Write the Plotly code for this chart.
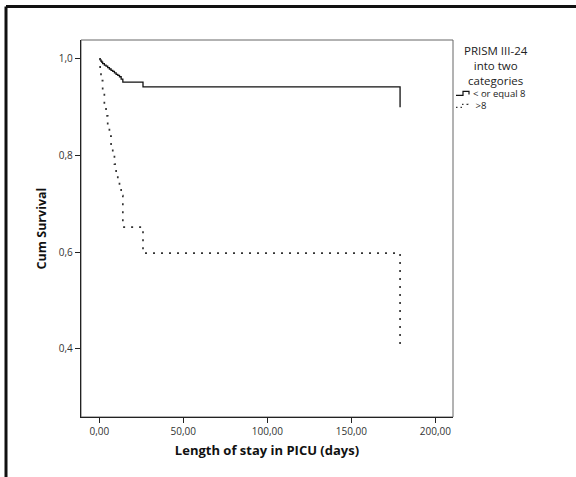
import plotly.graph_objects as go

# Data (Kaplan-Meier step estimates)
low_days = [0, 0.5, 1, 1.5, 2, 3, 4, 5, 6, 7, 8, 9, 10, 11, 12, 13, 14, 26, 179]
low_surv = [1.0, 0.998, 0.995, 0.993, 0.990, 0.987, 0.985, 0.982, 0.979, 0.976,
            0.974, 0.971, 0.968, 0.966, 0.963, 0.958, 0.952, 0.942, 0.900]
high_days = [0, 0.5, 1, 2, 3, 4, 5, 6, 7, 8, 9, 10, 11, 12, 13, 14, 26, 179]
high_surv = [1.0, 0.975, 0.955, 0.930, 0.905, 0.882, 0.862, 0.840, 0.820, 0.800,
             0.782, 0.765, 0.748, 0.732, 0.717, 0.652, 0.598, 0.408]
series_names = ["< or equal 8", ">8"]
legend_title_lines = ["PRISM III-24", "into two", "categories"]
x_ticks = [0, 50, 100, 150, 200]
y_ticks = [0.4, 0.6, 0.8, 1.0]

W, H = 576, 477
L, R, T, B = 81, 123, 39.5, 60
pw, ph = W - L - R, H - T - B

def px(x):
    return (x - L) / pw

def py(y):
    return (H - B - y) / ph

FONT = "Open Sans"

fig = go.Figure()
fig.add_trace(go.Scatter(x=low_days, y=low_surv, mode="lines", line_shape="hv",
                         name=series_names[0], line=dict(color="#111", width=1.3)))
fig.add_trace(go.Scatter(x=high_days, y=high_surv, mode="lines", line_shape="hv",
                         name=series_names[1],
                         line=dict(color="#333", width=1.7, dash="2px,6px")))

shapes = []
# plot frame (gray)
shapes.append(dict(type="rect", xref="paper", yref="paper", x0=0, x1=1, y0=0, y1=1,
                   line=dict(color="#666", width=1), layer="below"))
# outer black border (top and left only)
shapes.append(dict(type="line", xref="paper", yref="paper", x0=px(6), x1=px(590),
                   y0=py(6), y1=py(6), line=dict(color="#111", width=3)))
shapes.append(dict(type="line", xref="paper", yref="paper", x0=px(6), x1=px(6),
                   y0=py(6), y1=py(490), line=dict(color="#111", width=3)))

def path(points):
    s = ""
    for i, (x, y) in enumerate(points):
        s += ("M" if i == 0 else "L") + f"{px(x):.5f},{py(y):.5f} "
    return s

# legend symbols
shapes.append(dict(type="path", xref="paper", yref="paper",
                   path=path([(456, 95), (463, 95), (463, 91), (469, 91), (469, 94)]),
                   line=dict(color="#111", width=1.2)))
shapes.append(dict(type="path", xref="paper", yref="paper",
                   path=path([(456, 107), (462, 107), (462, 104), (468, 104), (468, 107)]),
                   line=dict(color="#333", width=1.4, dash="1.5px,3px")))

annotations = [
    dict(text="<br>".join(legend_title_lines), xref="paper", yref="paper",
         x=px(496), y=py(41), xanchor="center", yanchor="top", showarrow=False,
         align="center", font=dict(family=FONT, size=11.5, color="#222")),
    dict(text=series_names[0] + "<br> " + series_names[1], xref="paper", yref="paper",
         x=px(471), y=py(99), xanchor="left", yanchor="middle", showarrow=False,
         align="left", font=dict(family=FONT, size=9.5, color="#222")),
]

fig.update_layout(
    width=W, height=H,
    margin=dict(l=L, r=R, t=T, b=B, pad=0),
    paper_bgcolor="white", plot_bgcolor="white",
    showlegend=False,
    separators=",.",
    font=dict(family=FONT, color="#222"),
    shapes=shapes,
    annotations=annotations,
    xaxis=dict(range=[-10.9, 210.5], tickvals=x_ticks, tickformat=".2f",
               showgrid=False, zeroline=False, showline=True, linecolor="#222",
               linewidth=1.3, ticks="outside", ticklen=5, tickwidth=1.3,
               tickcolor="#222", tickfont=dict(size=10, color="#333"),
               title=dict(text="<b>Length of stay in PICU (days)</b>",
                          font=dict(size=13, color="#111"), standoff=8)),
    yaxis=dict(range=[0.259, 1.039], tickvals=y_ticks, tickformat=".1f",
               showgrid=False, zeroline=False, showline=True, linecolor="#222",
               linewidth=1.3, ticks="outside", ticklen=5, tickwidth=1.3,
               tickcolor="#222", tickfont=dict(size=10, color="#333"),
               title=dict(text="<b>Cum Survival</b>",
                          font=dict(size=12.5, color="#111"), standoff=9)),
)

fig.write_html("out.html")
